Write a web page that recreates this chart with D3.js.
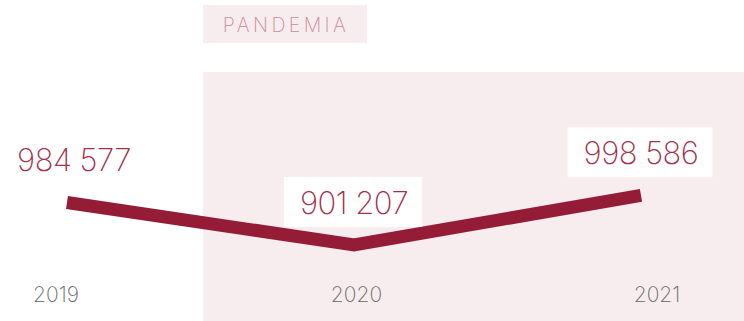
<!DOCTYPE html>
<html>
<head>
<meta charset="utf-8">
<script src="https://cdn.jsdelivr.net/npm/d3@7"></script>
<style>
  html, body { margin: 0; padding: 0; background: #fff; }
  svg { display: block; }
  text { font-family: "Inter", "Lato", sans-serif; }
</style>
</head>
<body>
<svg id="chart" width="744" height="321"></svg>
<script>
// Yearly totals
const years = ["2019", "2020", "2021"];
const values = [984577, 901207, 998586];
const valueLabels = ["984 577", "901 207", "998 586"];
const pandemicLabel = "PANDEMIA";

const W = 744, H = 321;
const svg = d3.select("#chart");

const lineColor = "#951c37";
const labelColor = "#a42f4a";
const shadeColor = "#f7edef";

// Scales
const x = d3.scalePoint().domain(years).range([67, 641]);
const xLabel = d3.scalePoint().domain(years).range([56, 657]);
const y = d3.scaleLinear().domain([900000, 1000000]).range([245.6, 194.6]);

// Pandemic shaded band
const bandX0 = 203;
svg.append("rect")
  .attr("x", bandX0).attr("y", 72)
  .attr("width", W - bandX0).attr("height", H - 72)
  .attr("fill", shadeColor);

// Pandemic tag
const tag = svg.append("g");
tag.append("rect")
  .attr("x", bandX0).attr("y", 5)
  .attr("width", 164).attr("height", 38)
  .attr("fill", shadeColor);
tag.append("text")
  .attr("x", bandX0 + 83).attr("y", 32)
  .attr("text-anchor", "middle")
  .attr("font-size", 19.5)
  .attr("font-weight", 250)
  .attr("letter-spacing", 3.4)
  .attr("fill", "#c98a9c")
  .text(pandemicLabel);

// Line
const data = years.map((yr, i) => ({ year: yr, value: values[i], label: valueLabels[i] }));
svg.append("path")
  .datum(data)
  .attr("fill", "none")
  .attr("stroke", lineColor)
  .attr("stroke-width", 13)
  .attr("stroke-linejoin", "miter")
  .attr("stroke-linecap", "butt")
  .attr("d", d3.line().x(d => x(d.year)).y(d => y(d.value)));

// Value labels with white plates
const labelDx = [7, 0, 0];
const plates = [false, true, true];
data.forEach((d, i) => {
  const g = svg.append("g");
  const cx = x(d.year) + labelDx[i];
  const base = y(d.value) - 31;
  const t = g.append("text")
    .attr("x", cx).attr("y", base)
    .attr("text-anchor", "middle")
    .attr("font-size", 31)
    .attr("font-weight", 250)
    .attr("letter-spacing", -0.5)
    .attr("fill", labelColor)
    .text(d.label);
  if (plates[i]) {
    const bb = t.node().getBBox();
    g.insert("rect", "text")
      .attr("x", cx - bb.width / 2 - 16)
      .attr("y", base - 37)
      .attr("width", bb.width + 30)
      .attr("height", 50)
      .attr("fill", "#fff");
  }
});

// Year labels
svg.selectAll(".year")
  .data(years)
  .join("text")
  .attr("class", "year")
  .attr("x", d => xLabel(d))
  .attr("y", 302)
  .attr("text-anchor", "middle")
  .attr("font-size", 21)
  .attr("font-weight", 250)
  .attr("fill", "#666")
  .text(d => d);
</script>
</body>
</html>
